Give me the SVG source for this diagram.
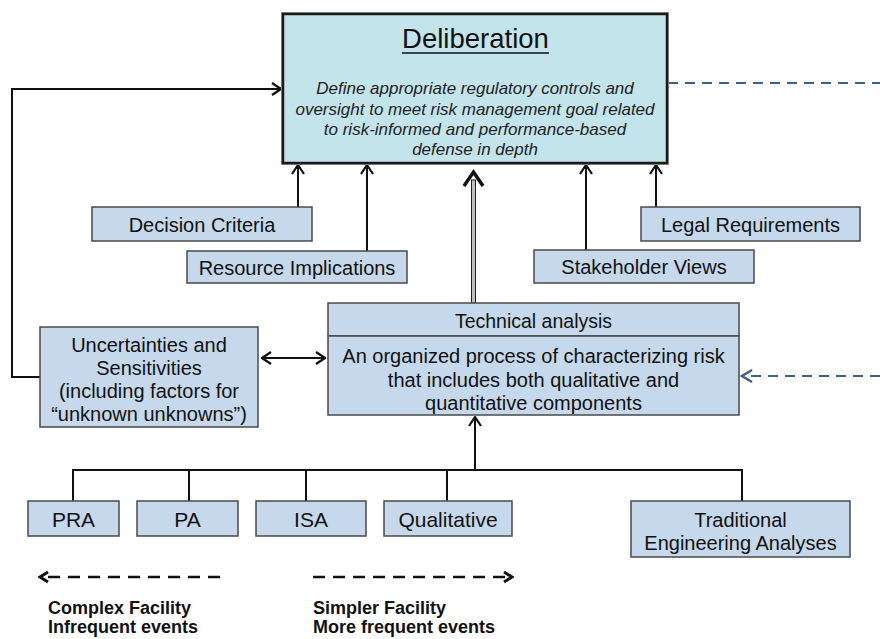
<svg xmlns="http://www.w3.org/2000/svg" width="880" height="639" viewBox="0 0 880 639">
<style>
.box{fill:#c6d8ec;stroke:#4a4a4a;stroke-width:1.5}
.t{font-family:"Liberation Sans",Arial,sans-serif;font-size:20px;fill:#111;text-anchor:middle}
.t21{font-size:21px}
.it{font-family:"Liberation Sans",Arial,sans-serif;font-size:17px;font-style:italic;fill:#222;text-anchor:middle}
.b{font-family:"Liberation Sans",Arial,sans-serif;font-size:18px;font-weight:bold;fill:#111}
.ln{fill:none;stroke:#111;stroke-width:2}
.dash{fill:none;stroke:#3f5f85;stroke-width:2;stroke-dasharray:10 7}
.bdash{fill:none;stroke:#111;stroke-width:2.5;stroke-dasharray:12 8}
</style>
<defs>
<marker id="ah" viewBox="0 0 12 14" refX="11" refY="7" markerWidth="12" markerHeight="14" markerUnits="userSpaceOnUse" orient="auto-start-reverse">
<path d="M2,1 L11,7 L2,13" fill="none" stroke="#111" stroke-width="2.2"/>
</marker>
<marker id="ahb" viewBox="0 0 14 14" refX="12" refY="7" markerWidth="14" markerHeight="14" markerUnits="userSpaceOnUse" orient="auto-start-reverse">
<path d="M2,1 L12,7 L2,13" fill="none" stroke="#3f5f85" stroke-width="2.4"/>
</marker>
<marker id="ahk" viewBox="0 0 12 14" refX="10" refY="7" markerWidth="12" markerHeight="14" markerUnits="userSpaceOnUse" orient="auto-start-reverse">
<path d="M2,2 L10,7 L2,12" fill="none" stroke="#111" stroke-width="3"/>
</marker>
</defs>

<g id="connectors">
<path class="ln" d="M40,377 H12 V89 H281" marker-end="url(#ah)"/>
<path class="ln" d="M298,207 V165" marker-end="url(#ah)"/>
<path class="ln" d="M367,251 V165" marker-end="url(#ah)"/>
<path class="ln" d="M586,250 V165" marker-end="url(#ah)"/>
<path class="ln" d="M656,207 V165" marker-end="url(#ah)"/>
<rect x="471.5" y="180" width="4" height="123" fill="#c0c0c0" stroke="#222" stroke-width="1"/>
<path d="M464,186 L473.5,172 L483,186" fill="none" stroke="#111" stroke-width="3.5"/>
<path class="ln" d="M262,358 H325" marker-start="url(#ah)" marker-end="url(#ah)"/>
<path class="dash" d="M668,83 H880"/>
<path class="dash" d="M880,376 H742" marker-end="url(#ahb)"/>
<path class="ln" d="M475,470 V417" marker-end="url(#ah)"/>
<path class="ln" d="M73,501 V470 H742 V501"/>
<path class="ln" d="M189,470 V501 M306,470 V501 M447,470 V501"/>
<path class="bdash" d="M220,577 H40" marker-end="url(#ahk)"/>
<path class="bdash" d="M313,577 H512" marker-end="url(#ahk)"/>
</g>

<g id="deliberation">
<rect x="281.5" y="12.5" width="387" height="152" fill="none" stroke="#9a9a9a" stroke-width="1"/>
<rect x="283" y="14" width="384" height="149" fill="#c4e4ec" stroke="#1a1a1a" stroke-width="2.5"/>
<text class="t" x="475.5" y="48" style="font-size:27.5px">Deliberation</text>
<path d="M402,53 H549" stroke="#111" stroke-width="1.6"/>
<text class="it" x="475" y="94">Define appropriate regulatory controls and</text>
<text class="it" x="475" y="114.5">oversight to meet risk management goal related</text>
<text class="it" x="475" y="135">to risk-informed and performance-based</text>
<text class="it" x="475" y="155">defense in depth</text>
</g>

<g id="decision-criteria">
<rect class="box" x="92" y="207" width="220" height="34"/>
<text class="t" x="202" y="232">Decision Criteria</text>
</g>
<g id="resource-implications">
<rect class="box" x="187" y="251" width="220" height="32"/>
<text class="t" x="297" y="275">Resource Implications</text>
</g>
<g id="stakeholder-views">
<rect class="box" x="534" y="250" width="220" height="33"/>
<text class="t" x="644" y="274">Stakeholder Views</text>
</g>
<g id="legal-requirements">
<rect class="box" x="641" y="207" width="219" height="34"/>
<text class="t" x="750.5" y="232">Legal Requirements</text>
</g>

<g id="uncertainties">
<rect class="box" x="40" y="327" width="218" height="100"/>
<text class="t" x="149" y="352">Uncertainties and</text>
<text class="t" x="149" y="375">Sensitivities</text>
<text class="t" x="149" y="398">(including factors for</text>
<text class="t" x="149" y="421">“unknown unknowns”)</text>
</g>

<g id="technical-analysis">
<rect class="box" x="328" y="303" width="411" height="33"/>
<rect class="box" x="328" y="336" width="411" height="79"/>
<text class="t" x="533.5" y="328" style="font-size:19.5px">Technical analysis</text>
<text class="t" x="533.5" y="363">An organized process of characterizing risk</text>
<text class="t" x="533.5" y="387">that includes both qualitative and</text>
<text class="t" x="533.5" y="410">quantitative components</text>
</g>

<g id="pra">
<rect class="box" x="28" y="501" width="91" height="35"/>
<text class="t t21" x="73.5" y="526.5">PRA</text>
</g>
<g id="pa">
<rect class="box" x="137" y="501" width="101" height="35"/>
<text class="t t21" x="187.5" y="526.5">PA</text>
</g>
<g id="isa">
<rect class="box" x="256" y="501" width="110" height="35"/>
<text class="t t21" x="311" y="526.5">ISA</text>
</g>
<g id="qualitative">
<rect class="box" x="384" y="501" width="128" height="35"/>
<text class="t t21" x="448" y="526.5">Qualitative</text>
</g>
<g id="traditional">
<rect class="box" x="631" y="501" width="219" height="56"/>
<text class="t" x="740.5" y="527">Traditional</text>
<text class="t" x="740.5" y="550">Engineering Analyses</text>
</g>

<g id="legend">
<text class="b" x="48" y="614">Complex Facility</text>
<text class="b" x="48" y="633">Infrequent events</text>
<text class="b" x="313" y="614">Simpler Facility</text>
<text class="b" x="313" y="633">More frequent events</text>
</g>
</svg>
